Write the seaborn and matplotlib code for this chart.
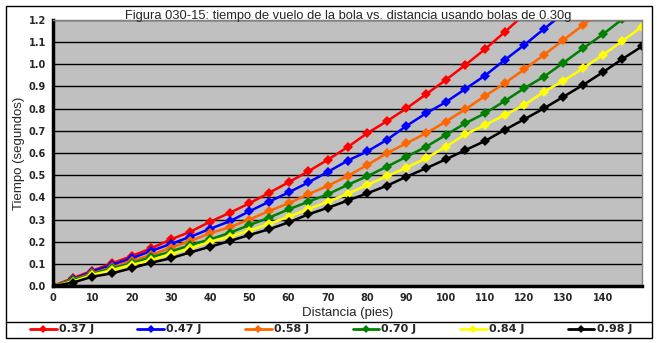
import numpy as np
import pandas as pd
import matplotlib
matplotlib.use("Agg")
import matplotlib.pyplot as plt
from matplotlib.lines import Line2D
import seaborn as sns

# ---- data ----
distancia = list(range(0, 155, 5))
series_names = ["0.37 J", "0.47 J", "0.58 J", "0.70 J", "0.84 J", "0.98 J"]
colors = ["#FF0000", "#0000FF", "#FF6600", "#008000", "#FFFF00", "#000000"]

t_037 = [0, 0.035, 0.069, 0.102, 0.135, 0.170, 0.210, 0.245, 0.290, 0.330,
         0.373, 0.420, 0.468, 0.517, 0.570, 0.626, 0.689, 0.743, 0.801, 0.865,
         0.929, 0.997, 1.068, 1.145, 1.225]
t_047 = [0, 0.030, 0.065, 0.095, 0.125, 0.158, 0.190, 0.222, 0.258, 0.292,
         0.337, 0.380, 0.422, 0.467, 0.515, 0.565, 0.607, 0.659, 0.722, 0.779,
         0.829, 0.889, 0.949, 1.019, 1.087, 1.159, 1.230]
t_058 = [0, 0.028, 0.057, 0.084, 0.113, 0.140, 0.173, 0.203, 0.238, 0.265,
         0.300, 0.338, 0.373, 0.414, 0.452, 0.496, 0.545, 0.599, 0.644, 0.689,
         0.741, 0.797, 0.857, 0.914, 0.977, 1.042, 1.110, 1.177, 1.245]
t_070 = [0, 0.025, 0.054, 0.080, 0.102, 0.130, 0.155, 0.185, 0.210, 0.240,
         0.275, 0.308, 0.346, 0.380, 0.414, 0.456, 0.495, 0.538, 0.583, 0.628,
         0.681, 0.734, 0.779, 0.834, 0.892, 0.944, 1.007, 1.072, 1.135, 1.204,
         1.270]
t_084 = [0, 0.020, 0.050, 0.072, 0.095, 0.117, 0.144, 0.170, 0.200, 0.222,
         0.250, 0.280, 0.313, 0.347, 0.380, 0.415, 0.456, 0.495, 0.534, 0.576,
         0.628, 0.684, 0.726, 0.771, 0.816, 0.876, 0.926, 0.982, 1.042, 1.105,
         1.170]
t_098 = [0, 0.015, 0.042, 0.057, 0.080, 0.105, 0.125, 0.152, 0.177, 0.203,
         0.230, 0.256, 0.287, 0.323, 0.353, 0.385, 0.418, 0.452, 0.493, 0.531,
         0.571, 0.613, 0.654, 0.704, 0.752, 0.801, 0.854, 0.907, 0.964, 1.024,
         1.081]

x_ticks = list(range(0, 150, 10))
y_ticks = [round(0.1 * i, 1) for i in range(13)]

all_series = [t_037, t_047, t_058, t_070, t_084, t_098]
rows = []
for name, vals in zip(series_names, all_series):
    for d, t in zip(distancia, vals):
        rows.append({"Distancia": d, "Tiempo": t, "Serie": name})
df = pd.DataFrame(rows)

# ---- figure ----
sns.set_style("white")
plt.rcParams["font.family"] = ["DejaVu Sans"]

W, H = 657, 343
fig = plt.figure(figsize=(W / 100, H / 100), dpi=100)
fig.patch.set_facecolor("white")

px0, px1, py0, py1 = 53, 642, 20, 286
ax = fig.add_axes([px0 / W, 1 - py1 / H, (px1 - px0) / W, (py1 - py0) / H])
ax.set_facecolor("#C0C0C0")

sns.lineplot(data=df, x="Distancia", y="Tiempo", hue="Serie",
             palette=dict(zip(series_names, colors)), hue_order=series_names,
             marker="D", markersize=5.5, markeredgewidth=0, linewidth=1.8,
             legend=False, ax=ax, sort=False)

ax.set_xlim(0, 150)
ax.set_ylim(0, 1.2)
ax.set_xticks(x_ticks)
ax.set_xticks(list(range(5, 150, 10)), minor=True)
ax.set_yticks(y_ticks)
ax.set_yticklabels([f"{v:.1f}" for v in y_ticks])
ax.tick_params(axis="both", which="both", direction="out", length=3, width=1,
               color="black", labelsize=7, pad=2)
for lab in ax.get_xticklabels() + ax.get_yticklabels():
    lab.set_fontweight("bold")

ax.yaxis.grid(True, color="black", linewidth=1)
ax.xaxis.grid(False)
ax.set_axisbelow(True)

for side in ["left", "bottom"]:
    ax.spines[side].set_color("black")
    ax.spines[side].set_linewidth(2.5)
for side in ["top", "right"]:
    ax.spines[side].set_color("#808080")
    ax.spines[side].set_linewidth(1)

ax.set_xlabel("Distancia (pies)", fontsize=9.5, labelpad=3, family=["Liberation Sans"])
ax.set_ylabel("Tiempo (segundos)", fontsize=9.5, labelpad=3, family=["Liberation Sans"])

fig.text(0.53, 1 - 19.5 / H, "Figura 030-15: tiempo de vuelo de la bola vs. distancia usando bolas de 0.30g",
         ha="center", va="baseline", fontsize=9.3, family=["Liberation Sans"])

# frame and legend band
fx0, fx1, fy0, fy1 = 5.5 / W, 651.5 / W, 1 - 337.5 / H, 1 - 5.5 / H
fig.add_artist(plt.Rectangle((fx0, fy0), fx1 - fx0, fy1 - fy0, transform=fig.transFigure,
                             fill=False, edgecolor="black", linewidth=1))
ly = 1 - 321.5 / H
fig.add_artist(Line2D([fx0, fx1], [ly, ly], transform=fig.transFigure, color="black", linewidth=1))

handles = [Line2D([0], [0], color=c, linewidth=2, marker="D", markersize=4.5, markeredgewidth=0)
           for c in colors]
leg = fig.legend(handles, series_names, loc="center left", ncol=6, mode="expand",
                 bbox_to_anchor=(30 / W, 1 - 337 / H, 602 / W, 15 / H),
                 frameon=False, fontsize=8, handlelength=2.4, handletextpad=0.2,
                 borderaxespad=0, borderpad=0)
for t in leg.get_texts():
    t.set_fontweight("bold")

fig.savefig("out.png", dpi=100)
